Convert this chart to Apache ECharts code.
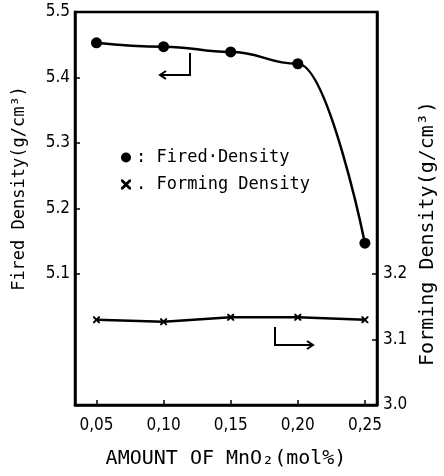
<!DOCTYPE html>
<html>
<head>
<meta charset="utf-8">
<script src="https://cdn.jsdelivr.net/npm/echarts@6/dist/echarts.min.js"></script>
<style>
  html, body { margin: 0; padding: 0; background: #fff; }
  #chart { width: 444px; height: 476px; }
</style>
</head>
<body>
<div id="chart"></div>
<script>
// MnO2 amount (mol%)
const amounts = [0.05, 0.10, 0.15, 0.20, 0.25]
const firedDensity = [5.453, 5.447, 5.439, 5.421, 5.147]
const formingDensity = [3.130, 3.127, 3.134, 3.134, 3.130]
const xTicks = [0.05, 0.10, 0.15, 0.20, 0.25]
const leftTicks = [5.1, 5.2, 5.3, 5.4, 5.5]
const rightTicks = [3.0, 3.1, 3.2]

// plotter-like lettering: mono for names, narrow for numbers
const monoFont = '"DejaVu Sans Mono", monospace'
const numFont = '"Liberation Sans Narrow", "DejaVu Sans Condensed", "Liberation Sans", sans-serif'
const crossPath = 'path://M0,0 L2,0 L10,8 L10,10 L8,10 L0,2 Z M8,0 L10,0 L10,2 L2,10 L0,10 L0,8 Z'

const chart = echarts.init(document.getElementById('chart'), null, { renderer: 'canvas' })

const tickLabel = {
  fontFamily: numFont,
  fontSize: 17,
  color: '#000'
}

const option = {
  backgroundColor: '#fff',
  animation: false,
  textStyle: { fontFamily: monoFont, color: '#000' },
  grid: {
    left: 75, right: 67, top: 12, bottom: 71,
    outerBoundsMode: 'none',
    show: true, borderColor: '#000', borderWidth: 2.5
  },
  legend: {
    orient: 'vertical',
    left: 116,
    top: 144,
    itemGap: 10,
    itemWidth: 10,
    itemHeight: 10,
    textStyle: { fontFamily: monoFont, fontSize: 17, color: '#000' },
    formatter: name => (name === 'Fired·Density' ? ': ' : '. ') + name,
    data: [
      { name: 'Fired·Density', icon: 'circle' },
      { name: 'Forming Density', icon: crossPath }
    ]
  },
  xAxis: {
    type: 'value',
    min: 0.034,
    max: 0.259,
    name: 'AMOUNT OF MnO₂(mol%)',
    nameLocation: 'middle',
    nameGap: 44,
    nameTextStyle: { fontFamily: monoFont, fontSize: 20, color: '#000' },
    axisLine: { lineStyle: { color: '#000', width: 2.5 } },
    axisTick: { inside: true, length: 5, customValues: xTicks, lineStyle: { color: '#000', width: 1.5 } },
    axisLabel: Object.assign({
      customValues: xTicks,
      margin: 12,
      formatter: v => v.toFixed(2).replace('.', ',')
    }, tickLabel),
    splitLine: { show: false }
  },
  yAxis: [
    {
      type: 'value',
      min: 4.9,
      max: 5.5,
      position: 'left',
      name: 'Fired Density(g/cm³)',
      nameLocation: 'middle',
      nameRotate: 90,
      nameGap: 47,
      // left padding pushes the name up along the axis
      nameTextStyle: { fontFamily: monoFont, fontSize: 17, color: '#000', padding: [0, 0, 0, 40] },
      axisLine: { show: true, lineStyle: { color: '#000', width: 2.5 } },
      axisTick: { inside: true, length: 5, customValues: leftTicks, lineStyle: { color: '#000', width: 1.5 } },
      axisLabel: Object.assign({
        customValues: leftTicks,
        margin: 5,
        formatter: v => v.toFixed(1)
      }, tickLabel),
      splitLine: { show: false }
    },
    {
      type: 'value',
      min: 3.0,
      max: 3.6,
      position: 'right',
      name: 'Forming Density(g/cm³)',
      nameLocation: 'middle',
      nameRotate: 90,
      nameGap: 40,
      // right padding pushes the name down along the axis
      nameTextStyle: { fontFamily: monoFont, fontSize: 20, color: '#000', padding: [0, 50, 0, 0] },
      axisLine: { show: true, lineStyle: { color: '#000', width: 2.5 } },
      axisTick: { inside: true, length: 5, customValues: rightTicks, lineStyle: { color: '#000', width: 1.5 } },
      axisLabel: Object.assign({
        customValues: rightTicks,
        margin: 6,
        formatter: v => v.toFixed(1)
      }, tickLabel),
      splitLine: { show: false }
    }
  ],
  series: [
    {
      name: 'Fired·Density',
      type: 'line',
      yAxisIndex: 0,
      // flat tangents at the points give the bowed tail of the drawing
      smooth: 0.45,
      smoothMonotone: 'x',
      symbol: 'circle',
      symbolSize: 11,
      itemStyle: { color: '#000' },
      lineStyle: { color: '#000', width: 2.5 },
      data: amounts.map((a, i) => [a, firedDensity[i]])
    },
    {
      name: 'Forming Density',
      type: 'line',
      yAxisIndex: 1,
      symbol: crossPath,
      symbolSize: 7,
      itemStyle: { color: '#000' },
      lineStyle: { color: '#000', width: 2.5 },
      data: amounts.map((a, i) => [a, formingDensity[i]])
    }
  ],
  graphic: [
    // arrow pointing to the left axis
    {
      type: 'polyline',
      shape: { points: [[190, 53], [190, 75], [161, 75]] },
      style: { stroke: '#000', lineWidth: 2, fill: null }
    },
    {
      type: 'polyline',
      shape: { points: [[166, 71], [160, 75], [166, 79]] },
      style: { stroke: '#000', lineWidth: 2, fill: null }
    },
    // arrow pointing to the right axis
    {
      type: 'polyline',
      shape: { points: [[275, 327], [275, 345], [312, 345]] },
      style: { stroke: '#000', lineWidth: 2, fill: null }
    },
    {
      type: 'polyline',
      shape: { points: [[307, 341], [313, 345], [307, 349]] },
      style: { stroke: '#000', lineWidth: 2, fill: null }
    }
  ]
}

chart.setOption(option)
</script>
</body>
</html>
